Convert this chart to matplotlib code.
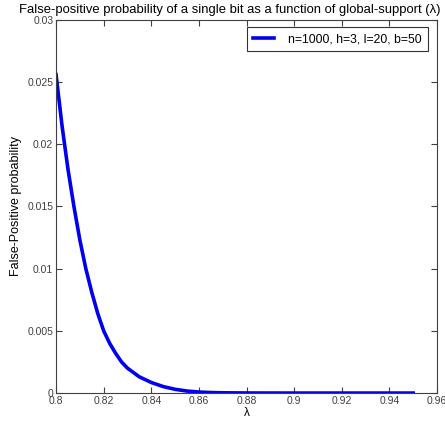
import numpy as np
import matplotlib
matplotlib.use("Agg")
import matplotlib.pyplot as plt
from matplotlib import rc

rc('font', **{'family': 'sans-serif', 'sans-serif': ['Liberation Sans', 'DejaVu Sans']})

# False-positive probability vs. global support (lambda)
lam = [0.8000, 0.8025, 0.8050, 0.8075, 0.8100, 0.8125, 0.8150, 0.8175,
       0.8200, 0.8225, 0.8250, 0.8275, 0.8300, 0.8350, 0.8400, 0.8450,
       0.8500, 0.8550, 0.8600, 0.8650, 0.8700, 0.8800, 0.8900, 0.9000,
       0.9250, 0.9500]
fp_prob = [0.0256, 0.0215, 0.0180, 0.0150, 0.0123, 0.0100, 0.0081, 0.0064,
           0.0050, 0.0040, 0.0032, 0.0025, 0.0020, 0.0013, 0.00085, 0.00052,
           0.00030, 0.00016, 0.00008, 0.00004, 0.00002, 0.000005, 0.000001, 0.0,
           0.0, 0.0]
series_label = "n=1000, h=3, l=20, b=50"

xticks = [0.8, 0.82, 0.84, 0.86, 0.88, 0.9, 0.92, 0.94, 0.96]
xtick_labels = ["0.8", "0.82", "0.84", "0.86", "0.88", "0.9", "0.92", "0.94", "0.96"]
yticks = [0, 0.005, 0.01, 0.015, 0.02, 0.025, 0.03]
ytick_labels = ["0", "0.005", "0.01", "0.015", "0.02", "0.025", "0.03"]

fig = plt.figure(figsize=(4.45, 4.24), dpi=100)
ax = fig.add_axes([0.126, 0.073, 0.856, 0.880])

ax.plot(lam, fp_prob, color='#0000ee', linewidth=2.6, label=series_label)

ax.set_xlim(0.8, 0.96)
ax.set_ylim(0, 0.03)
ax.set_xticks(xticks)
ax.set_xticklabels(xtick_labels)
ax.set_yticks(yticks)
ax.set_yticklabels(ytick_labels)

ax.tick_params(direction='in', top=True, right=True, length=4, width=0.8,
               labelsize=7.5, colors='#404040', pad=2)
for s in ax.spines.values():
    s.set_color('#404040')
    s.set_linewidth(0.8)

ax.set_xlabel('λ', fontsize=8.5, labelpad=1)
ax.set_ylabel('False-Positive probability', fontsize=9, labelpad=4)
# MATLAB-style title, centred on the figure rather than the axes
fig.text(0.517, 0.976,
         'False-positive probability of a single bit as a function of global-support (λ)',
         fontsize=9.4, ha='center', va='center')

leg = ax.legend(loc='upper right', fontsize=8.8, frameon=True, fancybox=False,
                borderpad=0.5, handlelength=1.7, handletextpad=1.2,
                borderaxespad=0, bbox_to_anchor=(0.977, 0.981))
leg.get_frame().set_edgecolor('black')
leg.get_frame().set_linewidth(0.8)

fig.savefig('out.png', dpi=100)
